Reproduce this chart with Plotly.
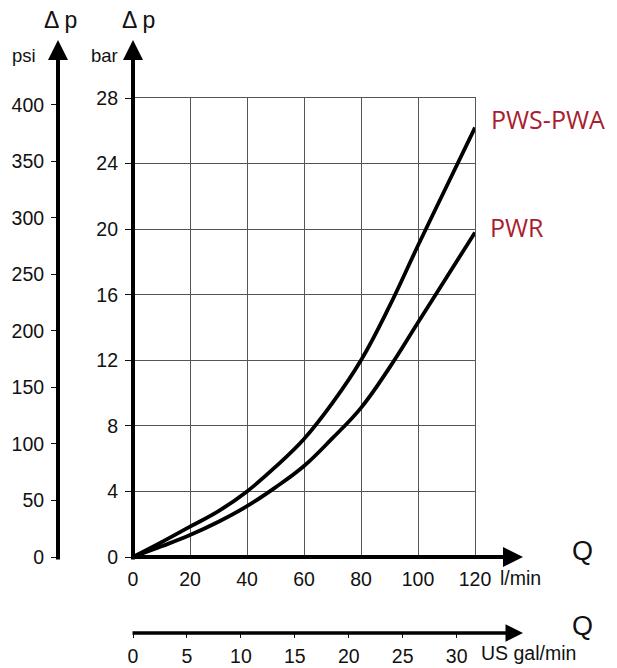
import plotly.graph_objects as go

# Flow rate (l/min) and pressure drop (bar) for the two valve types
flow_lpm = [0, 10, 20, 30, 40, 50, 60, 70, 80, 90, 100, 110, 120]
dp_pws_pwa = [0, 0.9, 1.85, 2.8, 4.0, 5.5, 7.2, 9.4, 12.0, 15.3, 19.0, 22.6, 26.2]
dp_pwr = [0, 0.65, 1.34, 2.15, 3.1, 4.25, 5.55, 7.25, 9.1, 11.55, 14.3, 17.05, 19.8]

series_names = ["PWS-PWA", "PWR"]

bar_ticks = [0, 4, 8, 12, 16, 20, 24, 28]
psi_ticks = [0, 50, 100, 150, 200, 250, 300, 350, 400]
lpm_ticks = [0, 20, 40, 60, 80, 100, 120]
gpm_ticks = [0, 5, 10, 15, 20, 25, 30]

BAR_TO_PSI = 14.5038
LPM_PER_GPM = 3.78541

W, H = 617, 668


def px(x):
    return x / W


def py(y):
    return (H - y) / H


NUM_FONT = dict(family="Liberation Sans, Arial, sans-serif", size=19.5, color="#111")
LABEL_COLOR = "#A91D30"
GRID = "#555"

fig = go.Figure()

for name, dp in zip(series_names, [dp_pws_pwa, dp_pwr]):
    fig.add_trace(go.Scatter(
        x=flow_lpm, y=dp, mode="lines", name=name,
        line=dict(color="black", width=3.8, shape="spline", smoothing=1.15),
        xaxis="x", yaxis="y", hoverinfo="x+y+name",
    ))

# Same curves in US units, invisible, so the secondary axes get drawn
fig.add_trace(go.Scatter(
    x=[q / LPM_PER_GPM for q in flow_lpm], y=dp_pws_pwa, mode="lines",
    line=dict(width=0), opacity=0, showlegend=False, hoverinfo="skip",
    xaxis="x2", yaxis="y",
))
fig.add_trace(go.Scatter(
    x=flow_lpm, y=[p * BAR_TO_PSI for p in dp_pws_pwa], mode="lines",
    line=dict(width=0), opacity=0, showlegend=False, hoverinfo="skip",
    xaxis="x", yaxis="y2",
))

x_dom = [px(133), px(475)]
y_dom = [py(557), py(98)]

common = dict(automargin=False, fixedrange=True, zeroline=False)

fig.update_layout(
    template="none",
    width=W, height=H, autosize=False,
    margin=dict(l=0, r=0, t=0, b=0, pad=0),
    paper_bgcolor="white", plot_bgcolor="white",
    showlegend=False,
    xaxis=dict(
        domain=x_dom, range=[0, 120], tickvals=lpm_ticks,
        showgrid=True, gridcolor=GRID, gridwidth=1.2,
        showline=True, mirror=True, linecolor=GRID, linewidth=1.2,
        ticks="", tickfont=NUM_FONT, ticklabelstandoff=4, anchor="y", **common,
    ),
    yaxis=dict(
        domain=y_dom, range=[0, 28], tickvals=bar_ticks,
        showgrid=True, gridcolor=GRID, gridwidth=1.2,
        showline=True, mirror=True, linecolor=GRID, linewidth=1.2,
        ticks="outside", ticklen=7, tickwidth=1.3, tickcolor="#111",
        tickfont=NUM_FONT, ticklabelstandoff=3, anchor="x", **common,
    ),
    xaxis2=dict(
        overlaying="x", anchor="free", position=py(633), side="bottom",
        range=[0, 120 / LPM_PER_GPM], tickvals=gpm_ticks, showgrid=False,
        showline=False, ticks="outside", ticklen=4, tickwidth=1.3,
        tickcolor="#111", tickfont=NUM_FONT, ticklabelstandoff=2, **common,
    ),
    yaxis2=dict(
        overlaying="y", anchor="free", position=px(58), side="left",
        range=[0, 28 * BAR_TO_PSI], tickvals=psi_ticks, showgrid=False,
        showline=False, ticks="outside", ticklen=7, tickwidth=1.3,
        tickcolor="#111", tickfont=NUM_FONT, ticklabelstandoff=3, **common,
    ),
)

annotations = []


def axis_arrow(x_tail, y_tail, x_tip, y_tip, width):
    annotations.append(dict(
        xref="paper", yref="paper", x=px(x_tip), y=py(y_tip),
        ax=x_tail - x_tip, ay=y_tail - y_tip, axref="pixel", ayref="pixel",
        text="", showarrow=True, arrowhead=2, arrowsize=1.0,
        arrowwidth=width, arrowcolor="black", standoff=0, startstandoff=0,
    ))


# Axis lines with arrowheads
axis_arrow(58, 561, 58, 40, 4)      # psi
axis_arrow(133, 561, 133, 40, 4)    # bar
axis_arrow(131, 557, 523, 557, 4)   # l/min
axis_arrow(131, 633, 523, 633, 3.5)  # US gal/min


def text(x, y, s, size=19.5, color="#111", family="Liberation Sans, Arial, sans-serif",
         xanchor="center"):
    annotations.append(dict(
        xref="paper", yref="paper", x=px(x), y=py(y), text=s, showarrow=False,
        xanchor=xanchor, yanchor="middle",
        font=dict(family=family, size=size, color=color),
    ))


text(60, 20, "Δ p", size=23)
text(138, 20, "Δ p", size=23)
text(24, 55, "psi", size=18.5)
text(104, 55, "bar", size=18.5)
text(543, 578, "l/min", xanchor="right")
text(578, 653, "US gal/min", xanchor="right")
text(582, 551, "Q", size=27)
text(582, 626, "Q", size=27)

label_font = "Open Sans, Noto Sans, sans-serif"
text(489, 119, series_names[0], size=25, color=LABEL_COLOR, family=label_font,
     xanchor="left")
text(488, 227, series_names[1], size=25, color=LABEL_COLOR, family=label_font,
     xanchor="left")

fig.update_layout(annotations=annotations)

fig.write_html("out.html")
